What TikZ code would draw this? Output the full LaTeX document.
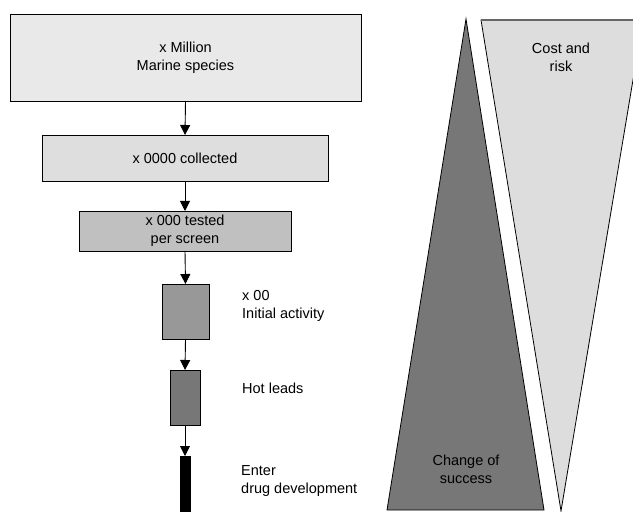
\documentclass[tikz,border=0pt]{standalone}
\usepackage{fontspec}
\setmainfont{Liberation Sans}
\usetikzlibrary{arrows.meta}
\definecolor{fillA}{HTML}{E9E9E9}
\definecolor{fillB}{HTML}{DEDEDE}
\definecolor{fillC}{HTML}{C0C0C0}
\definecolor{fillD}{HTML}{989898}
\definecolor{fillE}{HTML}{777777}
\definecolor{coneLight}{HTML}{DDDDDD}
\definecolor{coneDark}{HTML}{777777}
\begin{document}
\begin{tikzpicture}[x=1bp,y=-1bp,
  stage/.style={draw=black, line width=0.9bp, inner sep=0pt, outer sep=0pt,
    font=\fontsize{14.5bp}{18bp}\selectfont, align=center},
  lbl/.style={font=\fontsize{14.5bp}{18bp}\selectfont, align=left, anchor=west, inner sep=0pt},
  clbl/.style={font=\fontsize{14.5bp}{18bp}\selectfont, align=center, inner sep=0pt},
  flow/.style={-{Triangle[length=10bp,width=10bp]}, line width=0.9bp}]
\useasboundingbox (0,0) rectangle (633,512);
\fill[white] (0,0) rectangle (633,512);

% funnel of stages
\node[stage, fill=fillA, minimum width=351bp, minimum height=87bp] (s1) at (185.5,57.5) {x Million\\Marine species};
\node[stage, fill=fillB, minimum width=286bp, minimum height=46bp] (s2) at (185,158) {x 0000 collected};
\node[stage, fill=fillC, minimum width=212bp, minimum height=40bp] (s3) at (185,231) {x 000 tested\\per screen};
\node[stage, fill=fillD, minimum width=47bp, minimum height=55bp] (s4) at (185.5,311.5) {};
\node[stage, fill=fillE, minimum width=30bp, minimum height=55bp] (s5) at (185,397.5) {};
\node[stage, fill=black, minimum width=10bp, minimum height=60bp] (s6) at (185,486) {};

\draw[flow] (s1.south) -- (s2.north);
\draw[flow] (s2.south) -- (s3.north);
\draw[flow] (s3.south) -- (s4.north);
\draw[flow] (s4.south) -- (s5.north);
\draw[flow] (s5.south) -- (s6.north);

\node[lbl] (l4) at (242,306) {x 00\\Initial activity};
\node[lbl] (l5) at (242,388) {Hot leads};
\node[lbl] (l6) at (241,481) {Enter\\drug development};

% cost/risk and chance of success wedges
\draw[fill=coneLight, line width=0.8bp] (481,20) -- (643,20) -- (561,511) -- cycle;
\draw[draw=black!60, line width=1.4bp] (481,20) -- (643,20);
\draw[fill=coneDark, line width=0.8bp] (466,19) -- (544,510) -- (387,510) -- cycle;

\node[clbl] (cost) at (561,57) {Cost and\\risk};
\node[clbl] (succ) at (466,469) {Change of\\success};
\end{tikzpicture}
\end{document}
